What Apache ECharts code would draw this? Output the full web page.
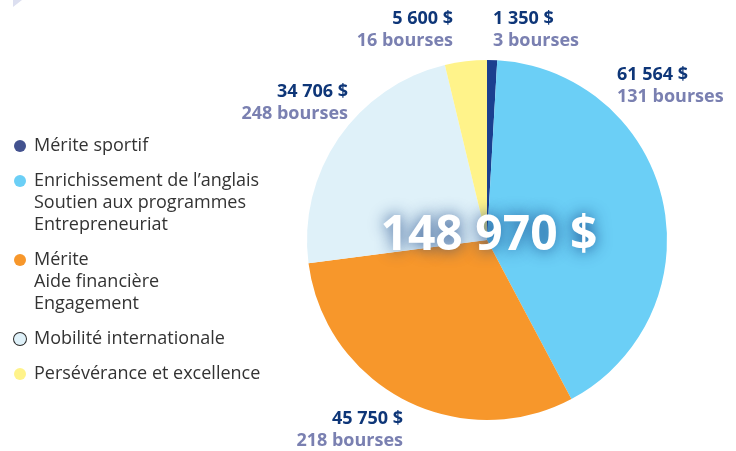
<!DOCTYPE html>
<html>
<head>
<meta charset="utf-8">
<script src="https://cdn.jsdelivr.net/npm/echarts@6/dist/echarts.min.js"></script>
<style>
  html, body { margin: 0; padding: 0; background: #fff; }
  #chart { width: 736px; height: 451px; }
</style>
</head>
<body>
<div id="chart"></div>
<script>
// slices, clockwise from 12 o'clock
const NAMES = [
  'Mérite sportif',
  'Enrichissement de l’anglais\nSoutien aux programmes\nEntrepreneuriat',
  'Mérite\nAide financière\nEngagement',
  'Mobilité internationale',
  'Persévérance et excellence'
];
const AMOUNTS = [1350, 61564, 45750, 34706, 5600];
const BOURSES = [3, 131, 218, 248, 16];

const FONT = "'Open Sans', 'Noto Sans', sans-serif";
const SLICE_COLORS = ['#1b3f8f', '#6bcff6', '#f7972b', '#dff1f9', '#fff38a'];
const DOT_COLORS = ['#43528f', '#6bcff6', '#f7972b', '#dff1f9', '#fff38a'];
const NAVY = '#0e3678';
const GREYBLUE = '#7a80b1';

// where each value label sits (top of block), by slice
const LABEL_POS = [
  { x: 493, y: 8, align: 'left' },
  { x: 617, y: 64, align: 'left' },
  { x: 403, y: 408, align: 'right' },
  { x: 348, y: 81, align: 'right' },
  { x: 453, y: 8, align: 'right' }
];
const CENTER = [487, 240];

function fmtNum(n) {
  return String(n).replace(/\B(?=(\d{3})+(?!\d))/g, ' ');
}

const total = AMOUNTS.reduce((a, b) => a + b, 0);

const rich = {
  t: { fontFamily: FONT, fontSize: 18, color: '#333', lineHeight: 22 },
  g: { width: 8, height: 12, lineHeight: 22 },
  s: { width: 20, height: 12, lineHeight: 22 }
};
DOT_COLORS.forEach((c, i) => {
  rich['d' + i] = {
    width: 12, height: 12, borderRadius: 6, backgroundColor: c, lineHeight: 22,
    borderColor: i === 3 ? '#2a2a2a' : c, borderWidth: i === 3 ? 1 : 0
  };
});

const chart = echarts.init(document.getElementById('chart'));
chart.setOption({
  animation: false,
  graphic: [
    { type: 'polygon', shape: { points: [[13, 0], [22, 0], [13, 7]] }, style: { fill: '#dcdff0' } },
    {
      type: 'text', x: CENTER[0] + 2, y: CENTER[1] - 4, z: 10,
      style: {
        text: fmtNum(total) + ' $', align: 'center', verticalAlign: 'middle',
        font: 'bold 48px ' + FONT, fill: '#fff',
        textShadowColor: 'rgba(10,55,125,0.85)', textShadowBlur: 16,
        shadowColor: 'rgba(10,55,125,0.85)', shadowBlur: 16
      }
    }
  ],
  legend: {
    orient: 'vertical', left: 9, top: 137, padding: 0, itemGap: 17,
    itemWidth: 0, itemHeight: 0, selectedMode: false,
    itemStyle: { opacity: 0 },
    data: NAMES,
    formatter: name => {
      const i = NAMES.indexOf(name);
      return name.split('\n').map((l, j) => (j === 0 ? '{d' + i + '|}{g|}' : '{s|}') + '{t|' + l + '}').join('\n');
    },
    textStyle: { rich: rich }
  },
  series: [{
    type: 'pie',
    center: CENTER,
    radius: 180,
    startAngle: 90,
    clockwise: true,
    silent: true,
    emphasis: { disabled: true },
    itemStyle: { borderWidth: 0 },
    data: NAMES.map((n, i) => ({ name: n, value: AMOUNTS[i], itemStyle: { color: SLICE_COLORS[i] } })),
    label: {
      show: true, position: 'outside', width: 130, overflow: 'none',
      formatter: p => '{v|' + fmtNum(p.value) + ' $}\n{b|' + BOURSES[p.dataIndex] + ' bourses}',
      rich: {
        v: { fontFamily: FONT, fontWeight: 'bold', fontSize: 18, color: NAVY, lineHeight: 22 },
        b: { fontFamily: FONT, fontWeight: 'bold', fontSize: 18, color: GREYBLUE, lineHeight: 22 }
      }
    },
    labelLine: { show: false },
    labelLayout: p => {
      const pos = LABEL_POS[p.dataIndex];
      return { x: pos.x, y: pos.y, align: pos.align, verticalAlign: 'top' };
    }
  }]
});
</script>
</body>
</html>
